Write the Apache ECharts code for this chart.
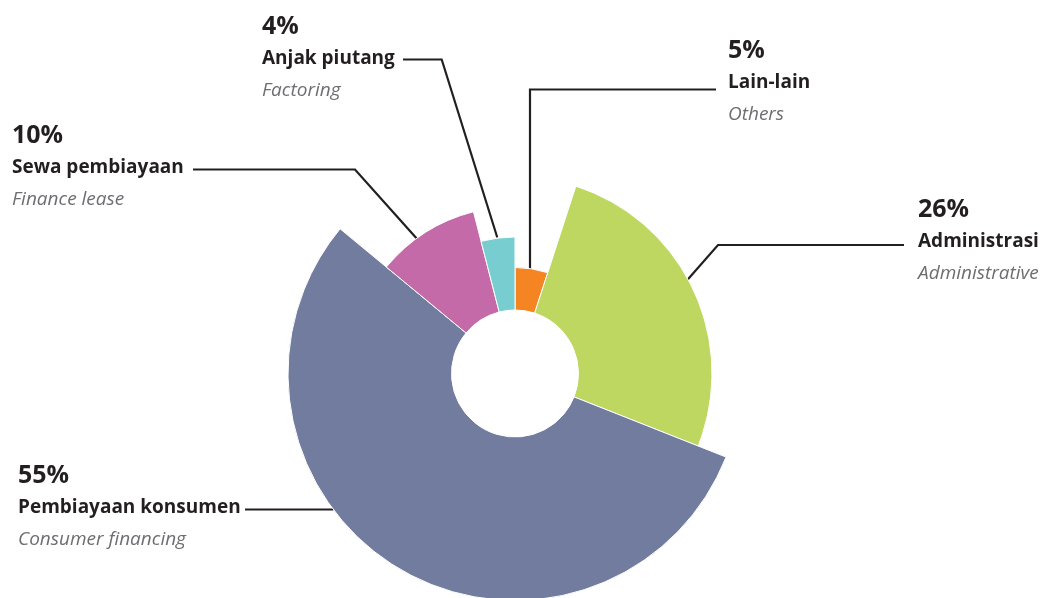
<!DOCTYPE html>
<html>
<head>
<meta charset="utf-8">
<script src="https://cdn.jsdelivr.net/npm/echarts@6/dist/echarts.min.js"></script>
<style>
  html, body { margin: 0; padding: 0; background: #ffffff; }
  #chart { width: 1043px; height: 598px; }
</style>
</head>
<body>
<div id="chart"></div>
<script>
// Portfolio composition in percent, clockwise from 12 o'clock
const categories = ['Lain-lain', 'Administrasi', 'Pembiayaan konsumen', 'Sewa pembiayaan', 'Anjak piutang'];
const englishNames = ['Others', 'Administrative', 'Consumer financing', 'Finance lease', 'Factoring'];
const shares = [5, 26, 55, 10, 4];

// Presentation settings
const colors = ['#F58423', '#BDD760', '#717C9F', '#C56AA8', '#77CDD0'];
const outerRadius = [106, 197, 227, 167, 136.5];
const innerRadius = 63.5;
const pieCenter = [515, 373.5];
const labelAnchor = [[728, 34.5], [918, 193.5], [18, 459.5], [12, 119.5], [262, 10.5]];
const leaderLines = [
  [[530, 269], [530, 89.5], [716, 89.5]],
  [[687.3, 280], [718, 245], [904, 245]],
  [[333.5, 509.5], [245, 509.5]],
  [[416.7, 238.5], [355, 169.5], [193, 169.5]],
  [[497.3, 237.5], [441.7, 59.5], [403, 59.5]]
];

const FONT = '"Open Sans", sans-serif';
const INK = '#231F20';

const richStyles = {
  p: { fontFamily: FONT, fontWeight: 'bold', fontSize: 25, color: INK, lineHeight: 32 },
  n: { fontFamily: FONT, fontWeight: 'bold', fontSize: 19, color: INK, lineHeight: 32 },
  e: { fontFamily: FONT, fontStyle: 'italic', fontSize: 19, color: '#6D6E71', lineHeight: 32 }
};

// One ring per category so each sector can carry its own outer radius;
// the other sectors of that ring are left invisible.
const series = categories.map((_, i) => ({
  type: 'pie',
  center: pieCenter,
  radius: [innerRadius, outerRadius[i]],
  startAngle: 90,
  clockwise: true,
  silent: true,
  animation: false,
  avoidLabelOverlap: false,
  data: categories.map((name, j) => ({
    name: name,
    value: shares[j],
    itemStyle: j === i
      ? { color: colors[j], borderColor: '#ffffff', borderWidth: 1 }
      : { color: 'rgba(0,0,0,0)', borderWidth: 0 },
    label: { show: j === i },
    labelLine: { show: j === i }
  })),
  label: {
    position: 'outside',
    formatter: p => `{p|${p.value}%}\n{n|${p.name}}\n{e|${englishNames[p.dataIndex]}}`,
    rich: richStyles
  },
  labelLine: {
    show: true,
    lineStyle: { color: INK, width: 2.2 }
  },
  labelLayout: p => ({
    x: labelAnchor[p.dataIndex][0],
    y: labelAnchor[p.dataIndex][1],
    align: 'left',
    verticalAlign: 'top',
    labelLinePoints: leaderLines[p.dataIndex]
  })
}));

const chart = echarts.init(document.getElementById('chart'), null, { renderer: 'canvas' });
chart.setOption({
  backgroundColor: '#ffffff',
  animation: false,
  series: series
});
</script>
</body>
</html>
